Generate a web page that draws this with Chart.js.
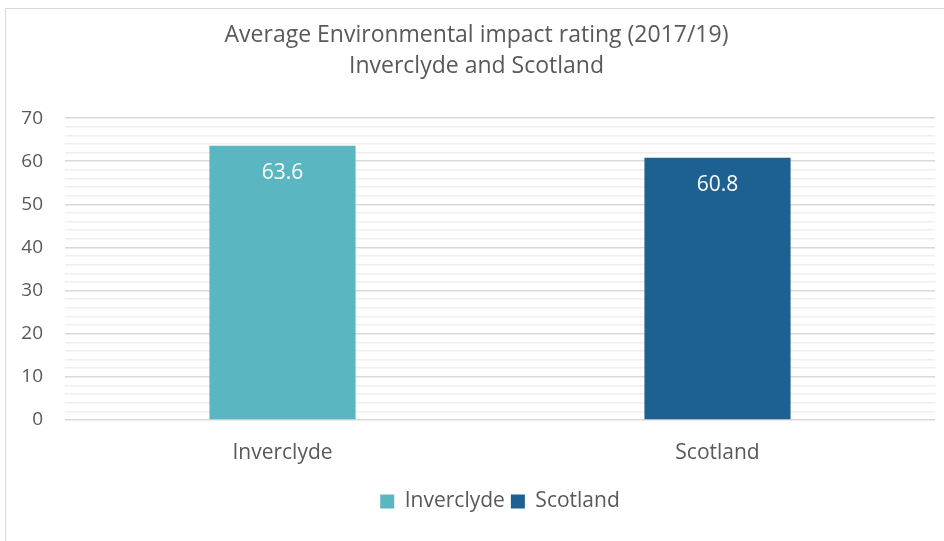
<!DOCTYPE html>
<html>
<head>
<meta charset="utf-8">
<script src="https://cdn.jsdelivr.net/npm/chart.js@4.4.0/dist/chart.umd.min.js"></script>
<style>
  body { margin: 0; background: #fff; overflow: hidden; }
  #frame {
    position: absolute; left: 5px; top: 8px; width: 960px; height: 560px;
    border-left: 1px solid #d9d9d9; border-top: 1px solid #d9d9d9;
  }
  #wrap { position: absolute; left: 0; top: 0; width: 939px; height: 533px; }
</style>
</head>
<body>
<div id="frame"><div id="wrap"><canvas id="envChart"></canvas></div></div>
<script>
const categories = ['Inverclyde', 'Scotland'];
const inverclydeValues = [63.6, null];
const scotlandValues = [null, 60.8];
const titleLines = ['Average Environmental impact rating (2017/19)', 'Inverclyde and Scotland'];

const FONT = "'Open Sans', sans-serif";
const TEXT = '#595959';

// draws the value inside the top of each bar
const barLabels = {
  id: 'barLabels',
  afterDatasetsDraw(chart) {
    const { ctx } = chart;
    ctx.save();
    ctx.fillStyle = '#ffffff';
    ctx.font = "21px " + FONT;
    ctx.textAlign = 'center';
    ctx.textBaseline = 'middle';
    chart.data.datasets.forEach((ds, i) => {
      chart.getDatasetMeta(i).data.forEach((bar, j) => {
        const v = ds.data[j];
        if (v == null) return;
        ctx.fillText(v.toFixed(1), bar.x, bar.y + 27);
      });
    });
    ctx.restore();
  }
};

new Chart(document.getElementById('envChart'), {
  type: 'bar',
  data: {
    labels: categories,
    datasets: [
      { label: 'Inverclyde', data: inverclydeValues, backgroundColor: '#5ab6c0' },
      { label: 'Scotland', data: scotlandValues, backgroundColor: '#1c6192' }
    ]
  },
  options: {
    responsive: true,
    maintainAspectRatio: false,
    animation: false,
    grouped: false,
    categoryPercentage: 1,
    barPercentage: 0.336,
    layout: { padding: { left: 12, right: 10, top: 11, bottom: 20 } },
    plugins: {
      title: {
        display: true,
        text: titleLines,
        color: TEXT,
        font: { family: FONT, size: 23, weight: 'normal', lineHeight: 1.35 },
        padding: { top: 0, bottom: 36 }
      },
      legend: {
        position: 'bottom',
        fullSize: false,
        labels: {
          color: TEXT,
          font: { family: FONT, size: 21 },
          boxWidth: 14,
          boxHeight: 14,
          padding: 6
        }
      },
      tooltip: { enabled: false }
    },
    scales: {
      y: {
        min: 0,
        max: 70,
        afterFit: s => { s.width = 47; },
        ticks: {
          stepSize: 2,
          autoSkip: false,
          color: TEXT,
          padding: 22,
          font: { family: FONT, size: 19 },
          callback: v => v % 10 === 0 ? v : ''
        },
        border: { display: false },
        grid: {
          drawTicks: false,
          color: ctx => ctx.tick.value % 10 === 0 ? '#d9d9d9' : '#efefef',
          lineWidth: 1.5
        }
      },
      x: {
        afterFit: s => { s.height = 65; },
        ticks: { color: TEXT, padding: 12, font: { family: FONT, size: 21 } },
        border: { display: false },
        grid: { display: false }
      }
    }
  },
  plugins: [barLabels]
});
</script>
</body>
</html>
